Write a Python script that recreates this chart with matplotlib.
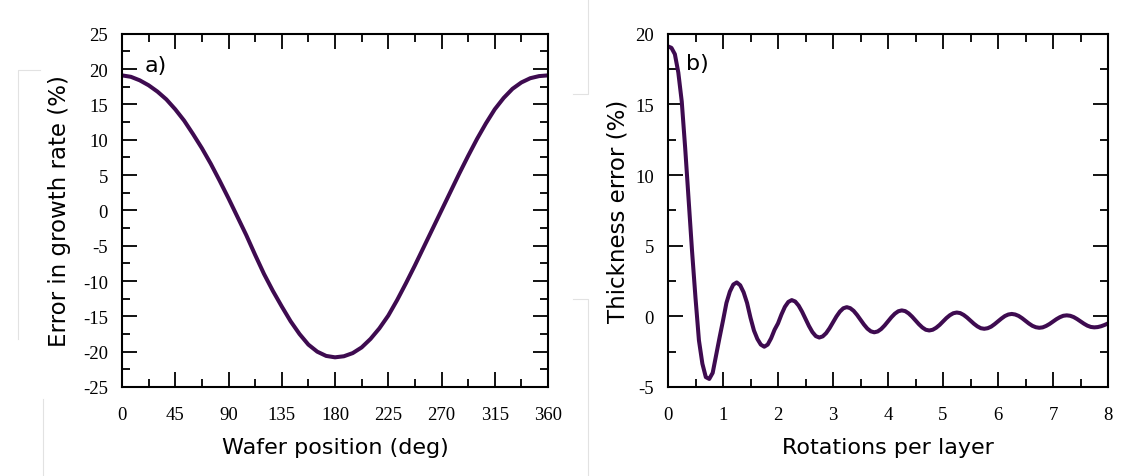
import numpy as np
import matplotlib
matplotlib.use("Agg")
import matplotlib.pyplot as plt
from matplotlib.ticker import MultipleLocator
from matplotlib.lines import Line2D

plt.rcParams['axes.unicode_minus'] = False

# --- data ---
# a) error in growth rate vs wafer position
wafer_deg = [0, 7.5, 15, 22.5, 30, 37.5, 45, 52.5, 60, 67.5, 75, 82.5, 90, 97.5,
             105, 112.5, 120, 127.5, 135, 142.5, 150, 157.5, 165, 172.5, 180,
             187.5, 195, 202.5, 210, 217.5, 225, 232.5, 240, 247.5, 255, 262.5,
             270, 277.5, 285, 292.5, 300, 307.5, 315, 322.5, 330, 337.5, 345, 352.5, 360]
growth_err = [19.1, 18.9, 18.4, 17.7, 16.8, 15.7, 14.3, 12.7, 10.8, 8.8, 6.6, 4.2, 1.7, -0.9,
              -3.5, -6.3, -9.0, -11.4, -13.6, -15.7, -17.5, -19.0, -20.0, -20.6, -20.8,
              -20.65, -20.2, -19.4, -18.2, -16.7, -14.9, -12.7, -10.3, -7.8, -5.2, -2.6,
              0.0, 2.6, 5.2, 7.7, 10.1, 12.3, 14.3, 15.9, 17.2, 18.1, 18.7, 19.0, 19.1]

# b) thickness error vs rotations per layer
rotations = [0.0, 0.0625, 0.125, 0.1875, 0.25, 0.3125, 0.375, 0.4375,
             0.5, 0.5625, 0.625, 0.6875, 0.75, 0.8125, 0.875, 0.9375,
             1.0, 1.0625, 1.125, 1.1875, 1.25, 1.3125, 1.375, 1.4375,
             1.5, 1.5625, 1.625, 1.6875, 1.75, 1.8125, 1.875, 1.9375,
             2.0, 2.0625, 2.125, 2.1875, 2.25, 2.3125, 2.375, 2.4375,
             2.5, 2.5625, 2.625, 2.6875, 2.75, 2.8125, 2.875, 2.9375,
             3.0, 3.0625, 3.125, 3.1875, 3.25, 3.3125, 3.375, 3.4375,
             3.5, 3.5625, 3.625, 3.6875, 3.75, 3.8125, 3.875, 3.9375,
             4.0, 4.0625, 4.125, 4.1875, 4.25, 4.3125, 4.375, 4.4375,
             4.5, 4.5625, 4.625, 4.6875, 4.75, 4.8125, 4.875, 4.9375,
             5.0, 5.0625, 5.125, 5.1875, 5.25, 5.3125, 5.375, 5.4375,
             5.5, 5.5625, 5.625, 5.6875, 5.75, 5.8125, 5.875, 5.9375,
             6.0, 6.0625, 6.125, 6.1875, 6.25, 6.3125, 6.375, 6.4375,
             6.5, 6.5625, 6.625, 6.6875, 6.75, 6.8125, 6.875, 6.9375,
             7.0, 7.0625, 7.125, 7.1875, 7.25, 7.3125, 7.375, 7.4375,
             7.5, 7.5625, 7.625, 7.6875, 7.75, 7.8125, 7.875, 7.9375,
             8.0]
thick_err = [19.1, 19.0, 18.55, 17.25, 15.2, 11.9, 8.3, 4.6,
             1.3, -1.7, -3.35, -4.3, -4.43, -4.0, -2.75, -1.5,
             -0.3, 0.95, 1.75, 2.25, 2.4, 2.2, 1.7, 0.95,
             -0.1, -1.0, -1.6, -2.0, -2.15, -2.0, -1.55, -0.95,
             -0.5, 0.13, 0.67, 1.02, 1.15, 1.05, 0.76, 0.33,
             -0.175, -0.68, -1.11, -1.40, -1.5, -1.42, -1.19, -0.84,
             -0.425, -0.01, 0.335, 0.57, 0.65, 0.58, 0.39, 0.10,
             -0.24, -0.58, -0.87, -1.06, -1.13, -1.07, -0.9, -0.65,
             -0.355, -0.06, 0.19, 0.36, 0.42, 0.37, 0.21, -0.02,
             -0.29, -0.56, -0.79, -0.95, -1.0, -0.95, -0.81, -0.61,
             -0.365, -0.12, 0.08, 0.22, 0.27, 0.23, 0.10, -0.085,
             -0.305, -0.525, -0.71, -0.84, -0.88, -0.84, -0.73, -0.555,
             -0.355, -0.155, 0.02, 0.13, 0.17, 0.13, 0.03, -0.13,
             -0.32, -0.51, -0.67, -0.77, -0.81, -0.78, -0.68, -0.54,
             -0.37, -0.20, -0.06, 0.04, 0.07, 0.04, -0.05, -0.19,
             -0.355, -0.52, -0.66, -0.75, -0.78, -0.76, -0.7, -0.61,
             -0.5]

line_col = '#3e0b50'
W, H = 1124, 477

fig = plt.figure(figsize=(W/100, H/100), dpi=100)
ax1 = fig.add_axes([122/W, 1-388/H, 426/W, 353.3/H])
ax2 = fig.add_axes([668/W, 1-388/H, 440/W, 353.3/H])

def style(ax):
    for s in ax.spines.values():
        s.set_linewidth(1.5)
    ax.tick_params(which='both', direction='in', top=True, right=True, width=1.3)
    ax.tick_params(which='major', length=11, pad=10)
    ax.tick_params(which='minor', length=6)
    ax.tick_params(axis='x', which='major', pad=14)
    for t in ax.get_xticklabels() + ax.get_yticklabels():
        t.set_fontfamily('Liberation Serif')
        t.set_fontsize(13.5)

# a)
ax1.plot(wafer_deg, growth_err, color=line_col, lw=2.9, solid_joinstyle='round')
ax1.set_xlim(0, 360)
ax1.set_ylim(-25, 25)
ax1.xaxis.set_major_locator(MultipleLocator(45))
ax1.xaxis.set_minor_locator(MultipleLocator(22.5))
ax1.yaxis.set_major_locator(MultipleLocator(5))
ax1.yaxis.set_minor_locator(MultipleLocator(2.5))
style(ax1)
ax1.set_xlabel('Wafer position (deg)', fontsize=16, labelpad=10)
ax1.set_ylabel('Error in growth rate (%)', fontsize=16.5, labelpad=9)
ax1.text(0.054, 0.91, 'a)', transform=ax1.transAxes, fontsize=16, va='center', ha='left')

# b)
ax2.plot(rotations, thick_err, color=line_col, lw=2.9, solid_joinstyle='round')
ax2.set_xlim(0, 8)
ax2.set_ylim(-5, 20)
ax2.xaxis.set_major_locator(MultipleLocator(1))
ax2.xaxis.set_minor_locator(MultipleLocator(0.5))
ax2.yaxis.set_major_locator(MultipleLocator(5))
ax2.yaxis.set_minor_locator(MultipleLocator(2.5))
style(ax2)
ax2.set_xlabel('Rotations per layer', fontsize=16, labelpad=10)
ax2.set_ylabel('Thickness error (%)', fontsize=16.5, labelpad=4)
ax2.text(0.042, 0.917, 'b)', transform=ax2.transAxes, fontsize=16, va='center', ha='left')

# faint scan-border lines around the panels
def faint(xs, ys):
    fig.add_artist(Line2D([x/W for x in xs], [1-y/H for y in ys], color='#e2e2e2', lw=0.8))

faint([40, 18, 18], [71, 71, 340])
faint([43, 43], [400, 477])
faint([573, 588, 588], [95, 95, 0])
faint([573, 588, 588], [300, 300, 477])

fig.savefig('out.png', dpi=100)
